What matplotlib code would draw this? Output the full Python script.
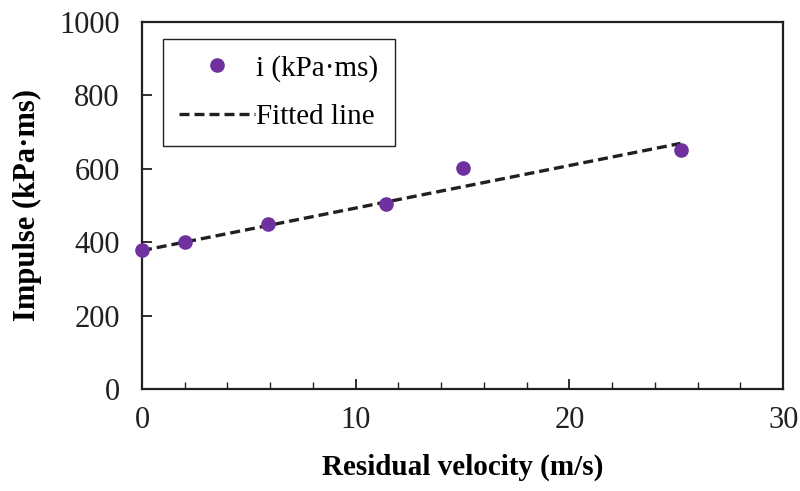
import numpy as np
import matplotlib
matplotlib.use('Agg')
import matplotlib.pyplot as plt
from matplotlib.ticker import MultipleLocator

# residual velocity vs impulse
velocity = [0.0, 2.0, 5.9, 11.4, 15.0, 25.2]
impulse = [378, 400, 450, 503, 601, 652]

# fitted line i = a + b*v
fit_intercept = 377
fit_slope = 11.6
fit_range = [0.0, 25.2]

plt.rcParams['font.family'] = ['Liberation Serif', 'DejaVu Serif']
plt.rcParams['font.size'] = 21

fig = plt.figure(figsize=(8, 4.91), dpi=100)
ax = fig.add_axes([0.1775, 0.208, 0.8015, 0.747])

fit_x = np.array(fit_range)
fit_y = fit_intercept + fit_slope * fit_x

ax.plot(velocity, impulse, 'o', color='#7030A0', markersize=9.5,
        label='i (kPa·ms)', clip_on=False, zorder=3)
ax.plot(fit_x, fit_y, '--', color='#231F20', linewidth=2.4,
        dashes=(3, 1.5), label='Fitted line', zorder=2)

ax.set_xlim(0, 30)
ax.set_ylim(0, 1000)
ax.xaxis.set_major_locator(MultipleLocator(10))
ax.xaxis.set_minor_locator(MultipleLocator(2))
ax.yaxis.set_major_locator(MultipleLocator(200))

ax.tick_params(axis='both', which='both', direction='in', colors='#231F20',
               labelsize=22)
ax.tick_params(axis='x', which='major', length=7, width=1.3, pad=12)
ax.tick_params(axis='x', which='minor', length=5, width=1.0)
ax.tick_params(axis='y', which='major', length=7, width=1.3, pad=16)
ax.tick_params(top=False, right=False)

for sp in ax.spines.values():
    sp.set_linewidth(1.6)
    sp.set_color('#231F20')

ax.set_xlabel('Residual velocity (m/s)', fontweight='bold', fontsize=21,
              labelpad=14)
ax.set_ylabel('Impulse (kPa·ms)', fontweight='bold', fontsize=22,
              labelpad=12)

leg = ax.legend(loc='upper left', bbox_to_anchor=(0.033, 0.955), fancybox=False,
                frameon=True, edgecolor='#231F20', framealpha=1, fontsize=21,
                handlelength=2.6, borderpad=0.55, labelspacing=0.75,
                handletextpad=0.05, borderaxespad=0)
leg.get_frame().set_linewidth(1.0)

fig.savefig('out.png', dpi=100)
